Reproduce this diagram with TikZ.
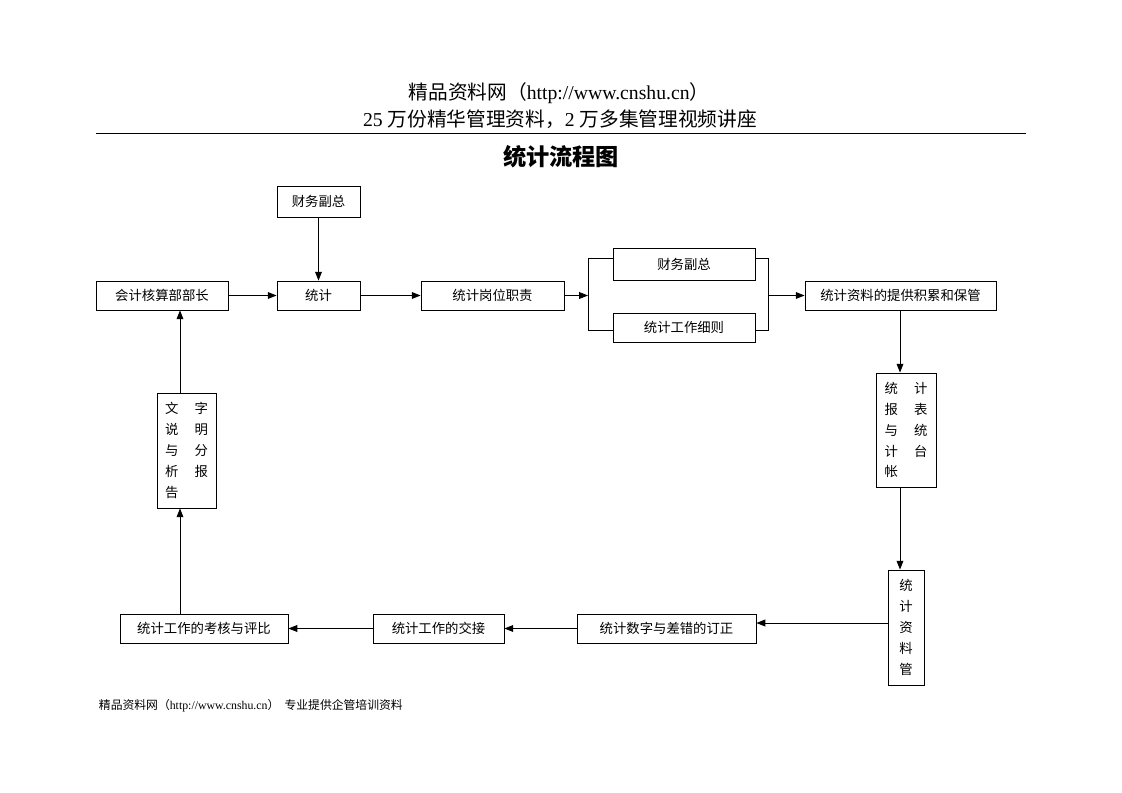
\documentclass[tikz,border=0pt]{standalone}
\usepackage{fontspec}
\setmainfont{Liberation Serif}
\newfontfamily\cjk{Noto Sans CJK SC}
\usetikzlibrary{arrows.meta}
\begin{document}
\begin{tikzpicture}[x=0.025cm,y=-0.025cm,
	box/.style={draw,line width=0.6pt,inner sep=0pt,minimum height=0.725cm,font=\cjk\fontsize{9.5}{12}\selectfont},
	vbox/.style={box,align=left,font=\cjk\fontsize{9.5}{14.9}\selectfont},
	edge/.style={-{Triangle[length=2.2mm,width=1.7mm]},line width=0.6pt},
	line/.style={-,line width=0.6pt}
	]
	\def\gap{\hspace{1.2em}}
	\useasboundingbox (0,0) rectangle (1122,793);
	% header
	\node (web) at (559,93) {\fontsize{14}{16}\selectfont{\cjk 精品资料网（}http://www.cnshu.cn{\cjk ）}};
	\node (ads) at (560,119) {\fontsize{14}{16}\selectfont 25 {\cjk 万份精华管理资料，}2 {\cjk 万多集管理视频讲座}};
	\coordinate (rl) at (96,133); \coordinate (rr) at (1026,133);
	\draw[line] (rl) -- (rr);
	\node (title) at (561,157) {\cjk\bfseries\fontsize{16.5}{20}\selectfont 统计流程图};
	
	% top row
	\node[box,minimum width=2.075cm,minimum height=0.775cm] (fz) at (318.5,201.5) {财务副总};
	\node[box,minimum width=3.3cm] (bz) at (162,295.5) {会计核算部部长};
	\node[box,minimum width=2.075cm] (tj) at (318.5,295.5) {统计};
	\node[box,minimum width=3.575cm] (gw) at (492.5,295.5) {统计岗位职责};
	\node[box,minimum width=3.55cm,minimum height=0.8cm] (fz2) at (684,264) {财务副总};
	\node[box,minimum width=3.55cm] (xz) at (684,327.5) {统计工作细则};
	\node[box,minimum width=4.775cm] (bg) at (900.5,295.5) {统计资料的提供积累和保管};
	
	% right column
	\node[vbox,minimum width=1.5cm,minimum height=2.85cm] (bb) at (906,430) {统\gap 计\\报\gap 表\\与\gap 统\\计\gap 台\\帐};
	\node[vbox,minimum width=0.9cm,minimum height=2.875cm] (zl) at (906,627.5) {统\\计\\资\\料\\管};
	
	% bottom row
	\node[box,minimum width=4.475cm] (dz) at (666.5,628.5) {统计数字与差错的订正};
	\node[box,minimum width=3.275cm] (jj) at (438.5,628.5) {统计工作的交接};
	\node[box,minimum width=4.2cm] (kh) at (204,628.5) {统计工作的考核与评比};
	\node[vbox,minimum width=1.475cm,minimum height=2.875cm] (fx) at (186.5,450.5) {文\gap 字\\说\gap 明\\与\gap 分\\析\gap 报\\告};
	
	% footer
	\node[anchor=west] (ft) at (94,706) {\fontsize{8.4}{10}\selectfont{\cjk 精品资料网（}http://www.cnshu.cn{\cjk ）\ \ 专业提供企管培训资料}};
	
	% branch
	\coordinate (lt) at (588,258); \coordinate (lb) at (588,330); \coordinate (lm) at (588,295.5);
	\coordinate (rt) at (768,258); \coordinate (rb) at (768,330); \coordinate (rm) at (768,295.5);
	\draw[line] (fz2.west |- lt) -- (lt) -- (lb) -- (xz.west |- lb);
	\draw[line] (fz2.east |- rt) -- (rt) -- (rb) -- (xz.east |- rb);
	
	% connector lanes
	\coordinate (cr) at (900,0); \coordinate (cl) at (180,0); \coordinate (cb) at (0,623);
	
	\draw[edge] (fz) -- (tj);
	\draw[edge] (bz) -- (tj);
	\draw[edge] (tj) -- (gw);
	\draw[edge] (gw) -- (lm);
	\draw[edge] (rm) -- (bg);
	\draw[edge] (bg.south -| cr) -- (bb.north -| cr);
	\draw[edge] (bb.south -| cr) -- (zl.north -| cr);
	\draw[edge] (zl.west |- cb) -- (dz.east |- cb);
	\draw[edge] (dz) -- (jj);
	\draw[edge] (jj) -- (kh);
	\draw[edge] (kh.north -| cl) -- (fx.south -| cl);
	\draw[edge] (fx.north -| cl) -- (bz.south -| cl);
\end{tikzpicture}
\end{document}
